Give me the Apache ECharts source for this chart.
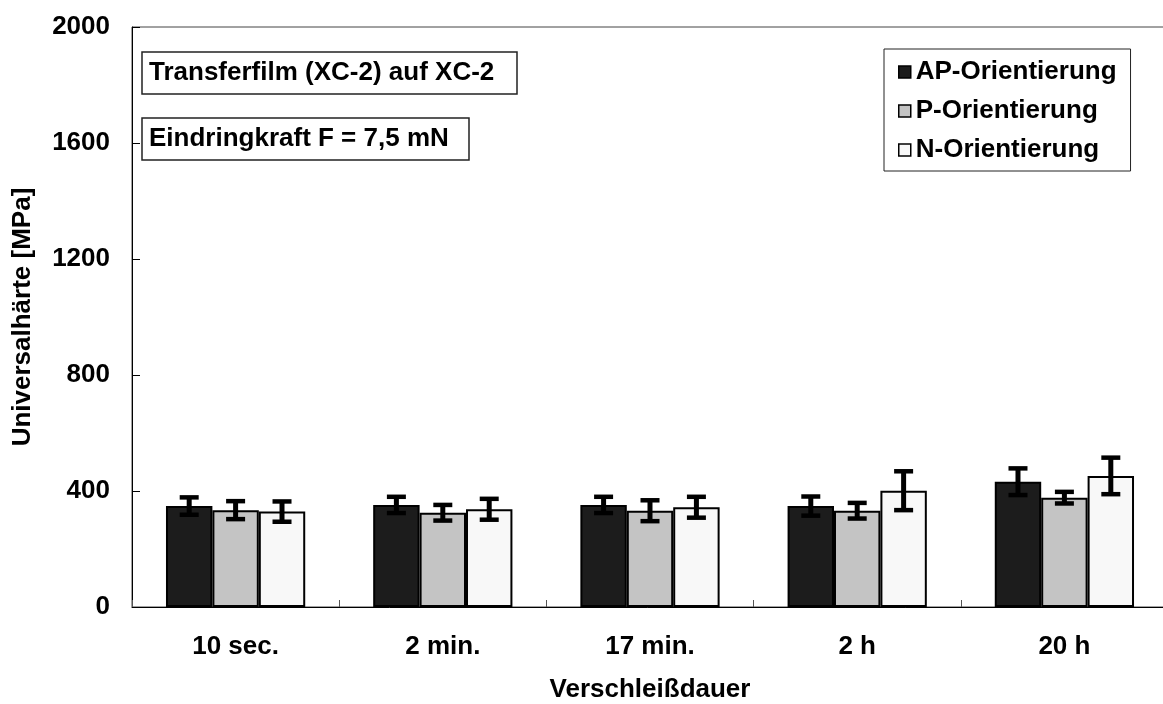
<!DOCTYPE html>
<html>
<head>
<meta charset="utf-8">
<title>Universalhärte – Transferfilm (XC-2) auf XC-2</title>
<script src="https://cdn.jsdelivr.net/npm/echarts@6/dist/echarts.min.js"></script>
<style>
  html, body { margin: 0; padding: 0; background: #fff; }
  #chart { width: 1163px; height: 704px; }
</style>
</head>
<body>
<div id="chart"></div>
<script>
// Wear duration categories
const categories = ['10 sec.', '2 min.', '17 min.', '2 h', '20 h'];

// Universal hardness [MPa] and standard deviations per orientation
const apValues = [348, 352, 352, 348, 432];
const apErrors = [30, 28, 28, 33, 46];
const pValues = [334, 325, 332, 332, 377];
const pErrors = [31, 27, 36, 27, 20];
const nValues = [329, 337, 344, 401, 452];
const nErrors = [35, 36, 36, 67, 63];

const seriesNames = ['AP-Orientierung', 'P-Orientierung', 'N-Orientierung'];
const yTicks = { min: 0, max: 2000, interval: 400 };

const FONT = '"Liberation Sans", Arial, sans-serif';
const FS = 26;
const BAR_RATIO = 0.224; // bar width as a share of the category band

function barSeries(name, values, color) {
  return {
    name: name,
    type: 'bar',
    data: values,
    barWidth: (BAR_RATIO * 100) + '%',
    barGap: '0%',
    itemStyle: { color: color, borderColor: '#000', borderWidth: 2 },
    z: 2
  };
}

function errorSeries(values, errors, slot) {
  return {
    type: 'custom',
    data: values.map((v, i) => [i, v - errors[i], v + errors[i]]),
    z: 5,
    silent: true,
    renderItem: function (params, api) {
      const i = api.value(0);
      const bandW = api.size([1, 0])[0];
      const cx = api.coord([i, 0])[0] + (slot - 1) * bandW * BAR_RATIO;
      const yLow = api.coord([i, api.value(1)])[1];
      const yHigh = api.coord([i, api.value(2)])[1];
      const cap = 9.5;
      const st = { stroke: '#000', lineWidth: 4.5 };
      return {
        type: 'group',
        children: [
          { type: 'line', shape: { x1: cx, y1: yLow, x2: cx, y2: yHigh }, style: { stroke: '#000', lineWidth: 5 } },
          { type: 'line', shape: { x1: cx - cap, y1: yHigh, x2: cx + cap, y2: yHigh }, style: st },
          { type: 'line', shape: { x1: cx - cap, y1: yLow, x2: cx + cap, y2: yLow }, style: st }
        ]
      };
    }
  };
}

// Framed annotation box: rectangle plus left-aligned bold text
function noteBox(text, x, y, w, h) {
  return {
    type: 'group', z: 10,
    children: [
      { type: 'rect', shape: { x: x, y: y, width: w, height: h },
        style: { fill: '#fff', stroke: '#222', lineWidth: 1.5 } },
      { type: 'text', x: x + 7, y: y + h / 2,
        style: { text: text, font: 'bold ' + FS + 'px ' + FONT, fill: '#000', verticalAlign: 'middle', align: 'left' } }
    ]
  };
}

const chart = echarts.init(document.getElementById('chart'), null, { renderer: 'canvas' });

const labelStyle = { fontFamily: FONT, fontWeight: 'bold', fontSize: FS, color: '#000' };

chart.setOption({
  backgroundColor: '#fff',
  animation: false,
  textStyle: { fontFamily: FONT },
  grid: {
    left: 132, top: 27, width: 1036, height: 580,
    outerBoundsMode: 'none',
    containLabel: false,
    show: true, borderColor: '#444', borderWidth: 1, backgroundColor: 'transparent'
  },
  legend: {
    data: seriesNames,
    orient: 'vertical',
    left: 884,
    top: 49,
    backgroundColor: '#fff',
    borderColor: '#222',
    borderWidth: 1,
    padding: [10, 14, 8, 14],
    itemWidth: 12,
    itemHeight: 12,
    itemGap: 13,
    icon: 'rect',
    itemStyle: { borderColor: '#000', borderWidth: 1.5 },
    selectedMode: false,
    textStyle: Object.assign({ lineHeight: 26 }, labelStyle)
  },
  xAxis: {
    type: 'category',
    data: categories,
    name: 'Verschleißdauer',
    nameLocation: 'middle',
    nameGap: 70,
    nameTextStyle: labelStyle,
    axisLine: { lineStyle: { color: '#000', width: 1 } },
    axisTick: { show: true, inside: true, length: 7, lineStyle: { color: '#555' } },
    axisLabel: Object.assign({ margin: 27 }, labelStyle),
    splitLine: { show: false }
  },
  yAxis: {
    type: 'value',
    min: yTicks.min,
    max: yTicks.max,
    interval: yTicks.interval,
    name: 'Universalhärte [MPa]',
    nameLocation: 'middle',
    nameGap: 96,
    nameTextStyle: labelStyle,
    axisLine: { show: true, lineStyle: { color: '#000', width: 1 } },
    axisTick: { show: true, inside: true, length: 8, lineStyle: { color: '#000' } },
    axisLabel: Object.assign({ margin: 22, formatter: v => String(v) }, labelStyle),
    splitLine: { show: false }
  },
  graphic: [
    noteBox('Transferfilm (XC-2) auf XC-2', 142, 52, 375, 42),
    noteBox('Eindringkraft F = 7,5 mN', 142, 118, 327, 42)
  ],
  series: [
    barSeries(seriesNames[0], apValues, '#1c1c1c'),
    barSeries(seriesNames[1], pValues, '#c4c4c4'),
    barSeries(seriesNames[2], nValues, '#f8f8f8'),
    errorSeries(apValues, apErrors, 0),
    errorSeries(pValues, pErrors, 1),
    errorSeries(nValues, nErrors, 2)
  ]
});
</script>
</body>
</html>
